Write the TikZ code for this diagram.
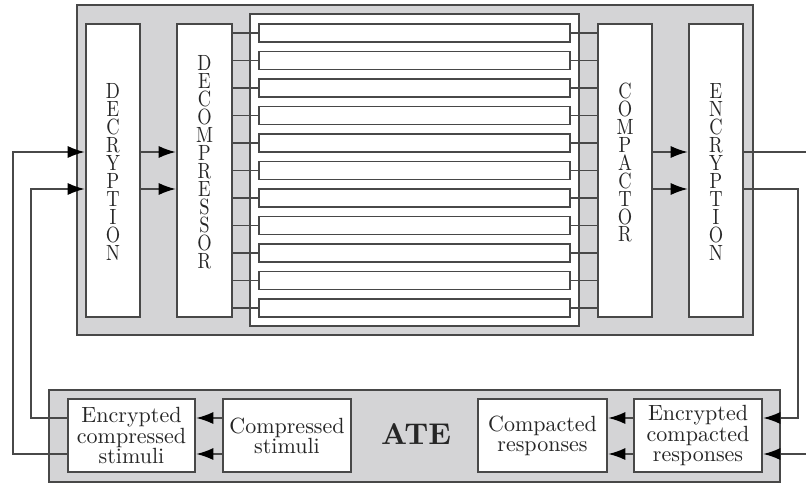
\documentclass[tikz,border=0pt]{standalone}
\usetikzlibrary{arrows.meta}
\definecolor{lc}{RGB}{72,72,72}
\definecolor{gf}{RGB}{212,212,214}
\newcommand\vlabtext[1]{\scalebox{1.85}[2.2]{\parbox{12pt}{\centering\fontsize{10}{8.18}\selectfont\lineskiplimit=-20pt #1}}}
\newcommand\blabtext[1]{\scalebox{2.2}{\parbox{54pt}{\centering\fontsize{10}{9.1}\selectfont\lineskiplimit=-20pt #1}}}
\begin{document}
\begin{tikzpicture}[x=1pt,y=-1pt,
  ln/.style={draw=lc, line width=1.4pt},
  arr/.style={ln, -{Latex[length=17pt,width=12pt,fill=black,color=black]}, shorten >=0.6pt},
  panel/.style={ln, fill=gf},
  wbox/.style={ln, fill=white, inner sep=0pt, rectangle},
  vlab/.style={inner sep=0pt, text=black!85},
  blab/.style={wbox, text=black!85}]
\useasboundingbox (0,0) rectangle (806,484);

% panels
\path[panel] (77,5) rectangle (753,335);
\path[panel] (49,390) rectangle (780,482);

% central white area
\node[wbox, minimum width=329pt, minimum height=312pt] (core) at (414.5,170) {};

% big vertical blocks
\node[wbox, minimum width=54pt, minimum height=293pt] (decr) at (113,170.5) {};
\node[wbox, minimum width=55pt, minimum height=293pt] (dcmp) at (204.5,170.5) {};
\node[wbox, minimum width=54pt, minimum height=293pt] (comp) at (625,170.5) {};
\node[wbox, minimum width=54pt, minimum height=293pt] (encr) at (716,170.5) {};

\node[vlab] (tdecr) at (113,172) {\vlabtext{D\\E\\C\\R\\Y\\P\\T\\I\\O\\N}};
\node[vlab] (tdcmp) at (204.5,162.5) {\vlabtext{D\\E\\C\\O\\M\\P\\R\\E\\S\\S\\O\\R}};
\node[vlab] (tcomp) at (625,162.5) {\vlabtext{C\\O\\M\\P\\A\\C\\T\\O\\R}};
\node[vlab] (tencr) at (716,172.5) {\vlabtext{E\\N\\C\\R\\Y\\P\\T\\I\\O\\N}};

% scan chains
\foreach \i in {0,...,10} {
  \node[wbox, minimum width=311pt, minimum height=18pt] (ch\i) at (414.5,{33+27.5*\i}) {};
  \draw[ln] (dcmp.east |- ch\i.west) -- (ch\i.west);
  \draw[ln] (ch\i.east) -- (comp.west |- ch\i.east);
}

% row coordinates
\coordinate (yA) at (0,152);
\coordinate (yB) at (0,189);
\coordinate (yC) at (0,418);
\coordinate (yD) at (0,454);

% arrows inside top panel
\draw[arr] (decr.east |- yA) -- (dcmp.west |- yA);
\draw[arr] (decr.east |- yB) -- (dcmp.west |- yB);
\draw[arr] (comp.east |- yA) -- (encr.west |- yA);
\draw[arr] (comp.east |- yB) -- (encr.west |- yB);

% ATE boxes
\node[blab, minimum width=127pt, minimum height=73pt] (ecs) at (131.5,435.5) {\blabtext{Encrypted\\compressed\\stimuli}};
\node[blab, minimum width=128pt, minimum height=73pt] (cs) at (287,435.5) {\blabtext{Compressed\\stimuli}};
\node[blab, minimum width=129pt, minimum height=73pt] (cr) at (542.5,435.5) {\blabtext{Compacted\\responses}};
\node[blab, minimum width=128pt, minimum height=73pt] (ecr) at (698,435.5) {\blabtext{Encrypted\\compacted\\responses}};
\node[text=black!85, inner sep=0pt] (ate) at (416,434) {\scalebox{3.0}{\fontsize{10}{12}\selectfont\bfseries ATE}};

\draw[arr] (cs.west |- yC) -- (ecs.east |- yC);
\draw[arr] (cs.west |- yD) -- (ecs.east |- yD);
\draw[arr] (ecr.west |- yC) -- (cr.east |- yC);
\draw[arr] (ecr.west |- yD) -- (cr.east |- yD);

% left loops
\coordinate (lo) at (13,454);
\coordinate (li) at (31,418);
\draw[arr] (ecs.west |- yD) -- (lo) |- (decr.west |- yA);
\draw[arr] (ecs.west |- yC) -- (li) |- (decr.west |- yB);

% right loops
\coordinate (rOut) at (806,152);
\coordinate (ri) at (798,189);
\coordinate (rIn) at (806,454);
\draw[ln] (encr.east |- yA) -- (rOut);
\draw[arr] (encr.east |- yB) -- (ri) |- (ecr.east |- yC);
\draw[arr] (rIn) -- (ecr.east |- yD);
\end{tikzpicture}
\end{document}
